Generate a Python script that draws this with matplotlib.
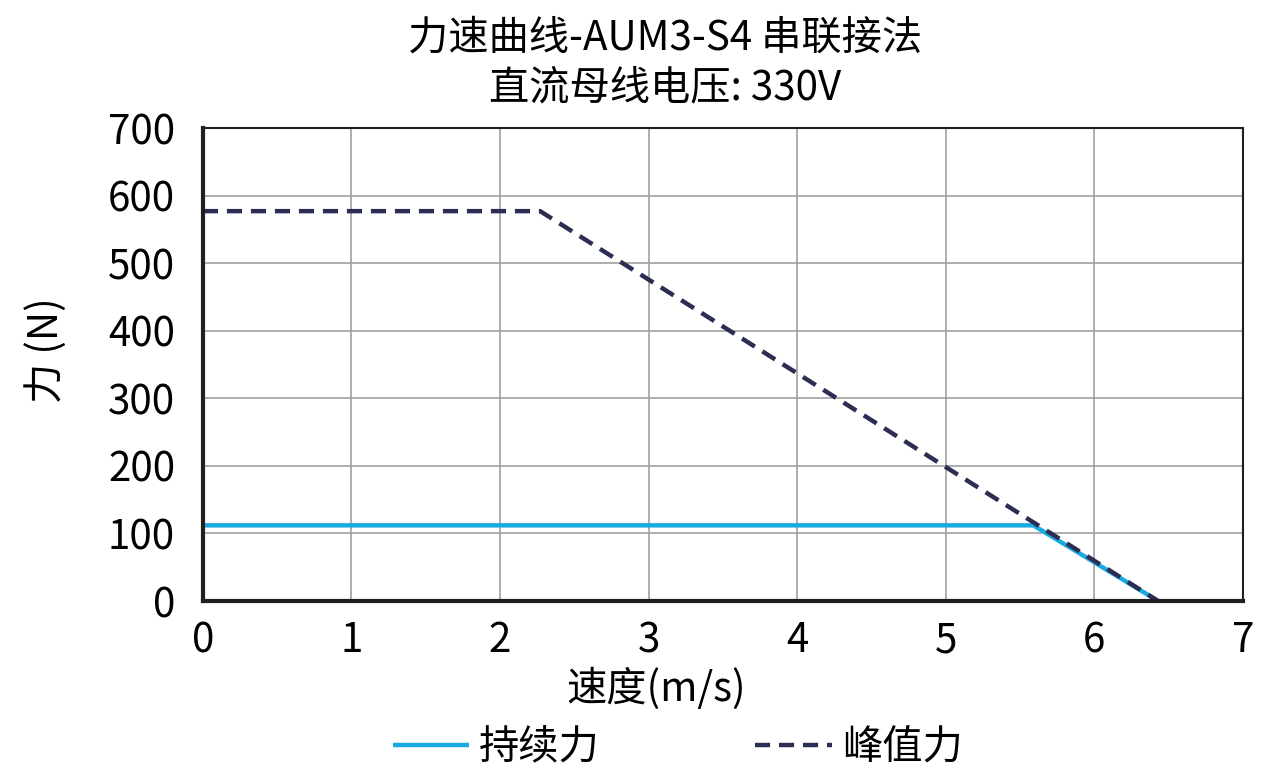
import matplotlib.pyplot as plt

plt.rcParams['font.family'] = ['Noto Sans CJK SC', 'DejaVu Sans']

# continuous force curve
cont_speed = [0, 5.59, 6.43]
cont_force = [112, 112, 0]
# peak force curve
peak_speed = [0, 2.27, 6.43]
peak_force = [577, 577, 0]

fig = plt.figure(figsize=(12.76, 7.83), dpi=100)
ax = fig.add_axes([0.159, 0.2324, 0.815, 0.6041])

ax.plot(cont_speed, cont_force, color='#1BA9E1', lw=3.2, label='持续力',
        solid_capstyle='butt')
ax.plot(peak_speed, peak_force, color='#2B2D52', lw=3.2, ls=(0, (3.4, 2)),
        label='峰值力')

ax.set_xlim(0, 7)
ax.set_ylim(0, 700)
ax.set_xticks(range(0, 8))
ax.set_yticks(range(0, 701, 100))
ax.grid(True, color='#a0a0a0', lw=1.2)
ax.set_axisbelow(True)
ax.tick_params(labelsize=29, length=0)
ax.tick_params(axis='y', pad=20)
ax.tick_params(axis='x', pad=14)
for lbl in ax.get_yticklabels():
    lbl.set_y(lbl.get_position()[1])
for s in ['left', 'bottom']:
    ax.spines[s].set_linewidth(3)
    ax.spines[s].set_color('#231f20')
for s in ['top', 'right']:
    ax.spines[s].set_linewidth(1.5)
    ax.spines[s].set_color('#231f20')

fig.text(0.521, 0.951, '力速曲线-AUM3-S4 串联接法', fontsize=29,
         ha='center', va='center')
fig.text(0.521, 0.888, '直流母线电压: 330V', fontsize=29,
         ha='center', va='center')
fig.text(0.514, 0.121, '速度(m/s)', fontsize=29, ha='center', va='center')
fig.text(0.036, 0.553, '力 (N)', fontsize=29, ha='center', va='center',
         rotation=90)

fig.legend(loc='center', bbox_to_anchor=(0.531, 0.045), ncol=2,
           frameon=False, fontsize=29, handlelength=1.9, columnspacing=3.85,
           handletextpad=0.25)

fig.savefig('out.png', dpi=100)
